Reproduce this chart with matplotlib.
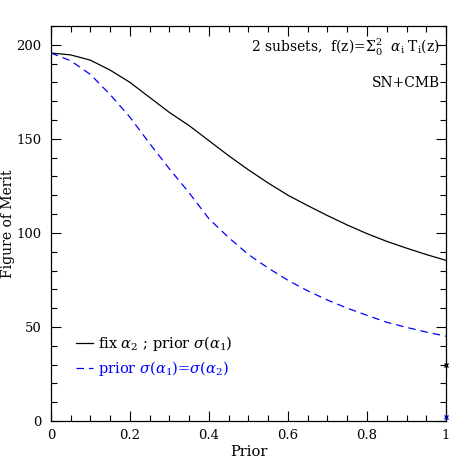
import numpy as np
import matplotlib
matplotlib.use("Agg")
import matplotlib.pyplot as plt
from matplotlib.ticker import MultipleLocator

# --- data ---
prior = [0.0, 0.05, 0.1, 0.15, 0.2, 0.25, 0.3, 0.35, 0.4, 0.45, 0.5,
         0.55, 0.6, 0.65, 0.7, 0.75, 0.8, 0.85, 0.9, 0.95, 1.0]
fom_fix_a2 = [195.6, 194.6, 191.8, 186.5, 180.0, 172.0, 164.0, 157.0, 149.0, 141.0, 133.5,
              126.5, 120.0, 114.5, 109.2, 104.2, 99.6, 95.5, 91.9, 88.5, 85.4]
fom_equal = [195.6, 191.5, 184.2, 173.5, 161.5, 147.5, 134.0, 121.3, 107.5, 97.5, 88.5,
             81.3, 74.8, 69.2, 64.3, 60.0, 56.2, 52.5, 49.8, 47.3, 45.1]

# single points at prior = 1
end_x = [1.0, 1.0]
end_y = [30.0, 2.3]
end_colors = ["black", "blue"]

plt.rcParams["font.family"] = "DejaVu Serif"
plt.rcParams["mathtext.fontset"] = "dejavuserif"

fig = plt.figure(figsize=(4.71, 4.71), dpi=100)
ax = fig.add_axes([0.108, 0.106, 0.839, 0.839])

ax.plot(prior, fom_fix_a2, color="black", lw=0.9,
        label=r"fix $\alpha_2$ ; prior $\sigma(\alpha_1)$")
ax.plot(prior, fom_equal, color="blue", lw=0.9, dashes=(6, 4),
        label=r"prior $\sigma(\alpha_1)$=$\sigma(\alpha_2)$")
for xx, yy, cc in zip(end_x, end_y, end_colors):
    ax.plot(xx, yy, marker="x", color=cc, ms=3.5, mew=1.0, clip_on=False)

ax.set_xlim(0, 1)
ax.set_ylim(0, 210)
ax.xaxis.set_major_locator(MultipleLocator(0.2))
ax.xaxis.set_minor_locator(MultipleLocator(0.05))
ax.yaxis.set_major_locator(MultipleLocator(50))
ax.yaxis.set_minor_locator(MultipleLocator(10))
ax.set_xticks([0, 0.2, 0.4, 0.6, 0.8, 1.0])
ax.set_xticklabels(["0", "0.2", "0.4", "0.6", "0.8", "1"])
ax.tick_params(which="both", direction="in", top=True, right=True, labelsize=9.5, width=0.8)
ax.tick_params(which="major", length=7)
ax.tick_params(which="minor", length=4)
ax.tick_params(axis="y", pad=7)
ax.tick_params(axis="x", pad=6)
for s in ax.spines.values():
    s.set_linewidth(0.9)

ax.set_xlabel("Prior", fontsize=10.5, labelpad=2)
ax.set_ylabel("Figure of Merit", fontsize=10)
ax.yaxis.set_label_coords(-0.09, 0.5)

ax.text(0.985, 0.945, r"2 subsets,  f(z)=$\Sigma_0^2$  $\alpha_{\rm i}$ T$_{\rm i}$(z)",
        transform=ax.transAxes, ha="right", va="center", fontsize=10)
ax.text(0.985, 0.855, "SN+CMB", transform=ax.transAxes, ha="right", va="center", fontsize=10)

ax.legend(loc="lower left", bbox_to_anchor=(0.03, 0.075), frameon=False,
          handlelength=1.2, handletextpad=0.3, labelspacing=0.45,
          fontsize=10.5, labelcolor="linecolor")

fig.savefig("out.png", dpi=100)
